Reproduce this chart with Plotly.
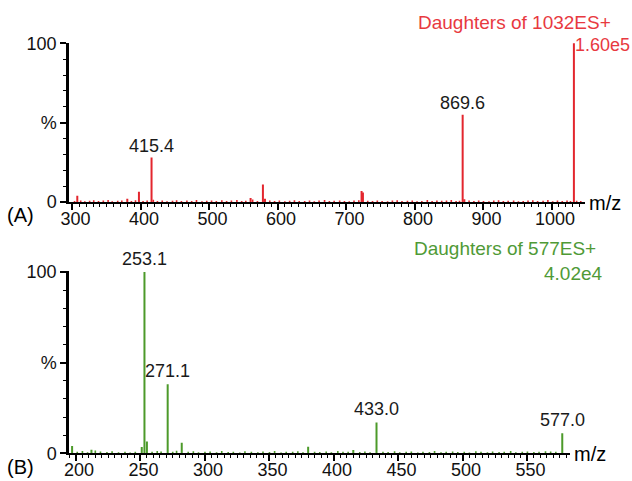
import plotly.graph_objects as go

# ---------------- data ----------------
# Panel A: daughters of 1032 ES+
a_major_mz = [307, 380, 397, 415.4, 560, 578, 581, 722, 724, 869.6, 872, 1032]
a_major_int = [4.0, 2.0, 6.5, 28.0, 2.5, 11.0, 2.0, 7.0, 6.0, 55.0, 1.8, 100.0]
a_noise_mz = [303, 312, 318, 325, 331, 338, 345, 352, 358, 366, 372, 386, 392, 403, 409,
              418, 424, 431, 438, 446, 452, 459, 467, 474, 481, 489, 496, 503, 510, 518,
              525, 532, 540, 547, 553, 563, 570, 588, 595, 602, 610, 617, 624, 631, 639,
              646, 653, 660, 668, 675, 682, 690, 697, 704, 711, 718, 731, 738, 745, 752,
              760, 767, 774, 781, 789, 796, 803, 810, 818, 825, 832, 839, 846, 853, 860,
              865, 879, 886, 893, 900, 908, 915, 922, 929, 936, 944, 951, 958, 965, 972,
              979, 987, 994, 1001, 1008, 1015, 1022, 1027, 1036, 1042]
a_noise_int = [0.6, 1.0, 0.5, 0.8, 1.1, 0.6, 0.9, 1.2, 0.5, 0.8, 1.0, 0.7, 1.1, 0.6, 0.9,
               1.4, 0.7, 1.0, 0.5, 0.8, 1.1, 0.6, 0.9, 0.7, 1.2, 0.5, 0.8, 1.0, 0.6, 1.1,
               0.7, 0.9, 1.2, 0.6, 0.8, 1.5, 0.7, 1.0, 0.6, 0.9, 0.5, 0.8, 1.1, 0.6, 0.7,
               1.0, 0.5, 0.9, 1.2, 0.6, 0.8, 1.0, 0.7, 0.5, 0.9, 1.1, 0.8, 0.6, 1.0, 0.7,
               0.5, 0.9, 1.1, 0.6, 0.8, 1.0, 0.5, 0.7, 1.2, 0.6, 0.9, 0.8, 1.0, 1.3, 0.6,
               0.8, 0.9, 0.6, 1.0, 0.7, 0.5, 0.9, 1.1, 0.6, 0.8, 1.0, 0.5, 0.7, 0.9, 1.1,
               0.6, 0.8, 1.2, 0.5, 0.9, 0.7, 1.0, 0.6, 0.8, 0.7]
a_labels_mz = [415.4, 869.6]
a_labels_int = [28.0, 55.0]
a_labels_txt = ["415.4", "869.6"]

# Panel B: daughters of 577 ES+
b_major_mz = [197, 212, 251, 253.1, 255, 271.1, 282, 380, 415, 433.0, 577.0]
b_major_int = [4.0, 2.0, 3.5, 100.0, 6.5, 38.0, 5.8, 3.6, 1.8, 17.0, 11.0]
b_noise_mz = [201, 205, 209, 215, 219, 224, 228, 233, 238, 242, 246, 259, 263, 266, 275,
              278, 287, 291, 295, 300, 304, 309, 313, 318, 322, 327, 331, 336, 341, 345,
              350, 354, 359, 363, 368, 372, 376, 385, 389, 394, 398, 403, 407, 411, 420,
              424, 428, 438, 442, 447, 451, 456, 460, 465, 469, 474, 478, 483, 487, 492,
              496, 501, 505, 510, 514, 519, 523, 528, 532, 537, 541, 546, 550, 555, 559,
              564, 568, 572]
b_noise_int = [0.8, 1.2, 0.6, 1.5, 1.0, 0.7, 1.1, 0.6, 0.9, 0.5, 0.8, 0.9, 1.2, 1.0, 0.8,
               1.4, 0.9, 1.1, 0.6, 0.8, 1.0, 0.6, 1.3, 0.7, 0.9, 0.5, 1.1, 0.8, 0.6, 1.0,
               0.7, 1.2, 0.5, 0.9, 0.8, 1.1, 0.6, 0.9, 0.7, 1.0, 0.6, 1.2, 0.8, 0.9, 0.7,
               1.0, 0.6, 0.9, 0.7, 1.1, 0.6, 0.8, 1.0, 0.5, 0.9, 0.7, 1.2, 0.6, 0.8, 1.0,
               0.7, 0.9, 0.5, 1.1, 0.8, 0.6, 1.0, 0.7, 0.9, 1.2, 0.6, 0.8, 1.0, 0.7, 0.9,
               1.1, 1.0, 0.8]
b_labels_mz = [253.1, 271.1, 433.0, 577.0]
b_labels_int = [100.0, 38.0, 17.0, 11.0]
b_labels_txt = ["253.1", "271.1", "433.0", "577.0"]

a_ticks = [300, 400, 500, 600, 700, 800, 900, 1000]
b_ticks = [200, 250, 300, 350, 400, 450, 500, 550]
y_tickvals = [0, 50, 100]
y_ticktext = ["0", "%", "100"]

# ---------------- styling ----------------
W, H = 632, 481
RED = "#e3262e"
RED_TXT = "#e8393f"
GREEN = "#4c9a2a"
GREEN_TXT = "#4f9a36"
FONT = "Liberation Sans, Arial, sans-serif"
FS = 18


def sticks(mz, inten):
    xs, ys = [], []
    for m, h in zip(mz, inten):
        xs += [m, m, None]
        ys += [0, h, None]
    return xs, ys


def px_x(p):
    return p / W


def px_y(p):
    return 1 - p / H


fig = go.Figure()

for mz, it, lw, color, xa, ya in [
    (a_noise_mz, a_noise_int, 1.6, RED, "x", "y"),
    (a_major_mz, a_major_int, 2.0, RED, "x", "y"),
    (b_noise_mz, b_noise_int, 1.6, GREEN, "x2", "y2"),
    (b_major_mz, b_major_int, 2.0, GREEN, "x2", "y2"),
]:
    xs, ys = sticks(mz, it)
    fig.add_trace(go.Scatter(x=xs, y=ys, mode="lines", line=dict(color=color, width=lw),
                             xaxis=xa, yaxis=ya, showlegend=False, hoverinfo="skip"))

common_x = dict(showgrid=False, zeroline=False, showline=True, linecolor="black", linewidth=2,
                ticks="outside", ticklen=6, tickwidth=1.5, tickcolor="black", automargin=False,
                ticklabelstandoff=-7, ticklabelshift=3,
                tickfont=dict(family=FONT, size=FS, color="#111"))
common_y = dict(showgrid=False, zeroline=False, showline=True, linecolor="black", linewidth=2.5,
                ticks="outside", ticklen=6, tickwidth=1.5, tickcolor="black", automargin=False,
                tickmode="array", tickvals=y_tickvals, ticktext=y_ticktext,
                minor=dict(tickmode="linear", tick0=0, dtick=10, ticks="outside", ticklen=3,
                           tickwidth=1.2, tickcolor="black"),
                tickfont=dict(family=FONT, size=FS, color="#111"))

fig.update_layout(
    width=W, height=H,
    margin=dict(l=0, r=0, t=0, b=0, autoexpand=False),
    paper_bgcolor="white", plot_bgcolor="white",
    font=dict(family=FONT, size=FS, color="black"),
    xaxis=dict(domain=[px_x(69), px_x(585)], anchor="y", range=[294.9, 1048.2],
               tickmode="array", tickvals=a_ticks,
               minor=dict(tickmode="linear", tick0=0, dtick=10, ticks="outside", ticklen=3,
                          tickwidth=1.2, tickcolor="black"),
               **common_x),
    yaxis=dict(domain=[px_y(202), px_y(42.5)], anchor="x", range=[0, 100.5], **common_y),
    xaxis2=dict(domain=[px_x(69), px_x(570)], anchor="y2", range=[194.6, 583],
                tickmode="array", tickvals=b_ticks,
                minor=dict(tickmode="linear", tick0=0, dtick=5, ticks="outside", ticklen=3,
                           tickwidth=1.2, tickcolor="black"),
                **common_x),
    yaxis2=dict(domain=[px_y(453.3), px_y(271)], anchor="x2", range=[0, 100.5], **common_y),
)

ann = []
for mz, it, t in zip(a_labels_mz, a_labels_int, a_labels_txt):
    ann.append(dict(x=mz, y=it, xref="x", yref="y", text=t, showarrow=False,
                    xanchor="center", yanchor="bottom", yshift=0,
                    font=dict(family=FONT, size=FS, color="#1a1a1a")))
for mz, it, t in zip(b_labels_mz, b_labels_int, b_labels_txt):
    ann.append(dict(x=mz, y=it, xref="x2", yref="y2", text=t, showarrow=False,
                    xanchor="center", yanchor="bottom", yshift=1,
                    font=dict(family=FONT, size=FS, color="#1a1a1a")))

ann += [
    dict(x=px_x(613), y=px_y(22), xref="paper", yref="paper", text="Daughters of 1032ES+",
         showarrow=False, xanchor="right", yanchor="middle",
         font=dict(family=FONT, size=FS + 1, color=RED_TXT)),
    dict(x=px_x(573), y=px_y(45), xref="paper", yref="paper", text="1.60e5",
         showarrow=False, xanchor="left", yanchor="middle",
         font=dict(family=FONT, size=FS, color=RED_TXT)),
    dict(x=px_x(598), y=px_y(248), xref="paper", yref="paper", text="Daughters of 577ES+",
         showarrow=False, xanchor="right", yanchor="middle",
         font=dict(family=FONT, size=FS + 1, color=GREEN_TXT)),
    dict(x=px_x(605), y=px_y(273), xref="paper", yref="paper", text="4.02e4",
         showarrow=False, xanchor="right", yanchor="middle",
         font=dict(family=FONT, size=FS + 1, color=GREEN_TXT)),
    dict(x=px_x(587), y=px_y(203), xref="paper", yref="paper", text="m/z",
         showarrow=False, xanchor="left", yanchor="middle",
         font=dict(family=FONT, size=FS + 2, color="black")),
    dict(x=px_x(572), y=px_y(454), xref="paper", yref="paper", text="m/z",
         showarrow=False, xanchor="left", yanchor="middle",
         font=dict(family=FONT, size=FS + 2, color="black")),
    dict(x=px_x(5), y=px_y(215), xref="paper", yref="paper", text="(A)",
         showarrow=False, xanchor="left", yanchor="middle",
         font=dict(family=FONT, size=FS + 2, color="black")),
    dict(x=px_x(5), y=px_y(467), xref="paper", yref="paper", text="(B)",
         showarrow=False, xanchor="left", yanchor="middle",
         font=dict(family=FONT, size=FS + 2, color="black")),
]
fig.update_layout(annotations=ann)

fig.write_html("out.html", config={"displayModeBar": False},
               post_script="document.body.style.margin='0';document.body.style.overflow='hidden';")
